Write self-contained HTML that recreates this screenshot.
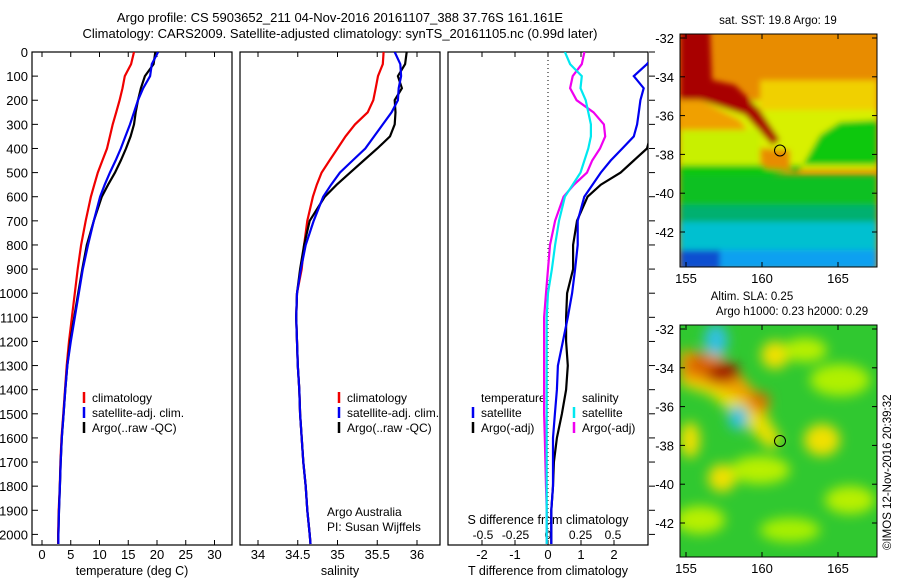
<!DOCTYPE html>
<html><head><meta charset="utf-8"><style>
body{margin:0;background:#fff}
svg{display:block;font-family:"Liberation Sans",sans-serif}
</style></head><body>
<svg id="c" width="900" height="580" viewBox="0 0 900 580">
<defs>
<filter id="bl" x="-20%" y="-20%" width="140%" height="140%"><feGaussianBlur stdDeviation="6"/></filter>
<filter id="bl2" x="-20%" y="-20%" width="140%" height="140%"><feGaussianBlur stdDeviation="3"/></filter>
<clipPath id="cp1"><rect x="32" y="52" width="200" height="493"/></clipPath>
<clipPath id="cp2"><rect x="240" y="52" width="200" height="493"/></clipPath>
<clipPath id="cp3"><rect x="448" y="52" width="200" height="493"/></clipPath>
<clipPath id="cm1"><rect x="680" y="34" width="197" height="233"/></clipPath>
<clipPath id="cm2"><rect x="680" y="325" width="197" height="232"/></clipPath>
</defs>
<text x="340" y="22" font-size="13" text-anchor="middle">Argo profile: CS 5903652_211 04-Nov-2016 20161107_388 37.76S 161.161E</text>
<text x="340" y="38" font-size="13" text-anchor="middle">Climatology: CARS2009. Satellite-adjusted climatology: synTS_20161105.nc (0.99d later)</text>

<!-- SST map -->
<g clip-path="url(#cm1)">
<rect x="680" y="34" width="197" height="233" fill="#e88c00"/>
<g filter="url(#bl2)">
<rect x="680" y="100" width="197" height="70" fill="#d8f000"/>
<rect x="760" y="80" width="117" height="30" fill="#f0d000"/>
<polygon points="680,30 710,30 712,80 735,85 760,110 780,140 772,145 745,115 700,100 680,100" fill="#a80000"/>
<polygon points="680,100 700,100 740,120 760,150 785,170 730,165 680,130" fill="#f0a000"/>
<rect x="680" y="130" width="80" height="40" fill="#c8f000"/>
<polygon points="680,165 877,165 877,120 840,122 820,135 800,170 770,175 680,175" fill="#10c810"/>
<rect x="680" y="175" width="197" height="45" fill="#10c020"/>
<rect x="680" y="205" width="197" height="20" fill="#00b070"/>
<rect x="680" y="222" width="197" height="30" fill="#00c0d0"/>
<rect x="680" y="250" width="197" height="20" fill="#10a0f0"/>
<rect x="680" y="250" width="40" height="20" fill="#1050d0"/>
<polygon points="760,148 790,150 790,170 765,168" fill="#e88c00"/>
</g>
</g>
<rect x="680" y="34" width="197" height="233" fill="none" stroke="#000"/>
<circle cx="780" cy="150.5" r="5.5" fill="none" stroke="#000"/>
<text x="778" y="24" font-size="11.5" text-anchor="middle">sat. SST: 19.8 Argo: 19</text>

<!-- SLA map -->
<g clip-path="url(#cm2)">
<rect x="680" y="325" width="197" height="232" fill="#30c830"/>
<g filter="url(#bl)">
<ellipse cx="775" cy="355" rx="14" ry="14" fill="#f0e000"/>
<ellipse cx="805" cy="350" rx="22" ry="12" fill="#b8f000"/>
<ellipse cx="840" cy="380" rx="30" ry="16" fill="#b0f000"/>
<ellipse cx="822" cy="440" rx="18" ry="16" fill="#f0e000"/>
<ellipse cx="722" cy="478" rx="14" ry="14" fill="#f0e000"/>
<ellipse cx="690" cy="440" rx="10" ry="18" fill="#f0e000"/>
<ellipse cx="760" cy="470" rx="30" ry="14" fill="#b8f000"/>
<ellipse cx="850" cy="500" rx="25" ry="14" fill="#b8f000"/>
<ellipse cx="700" cy="520" rx="25" ry="14" fill="#b8f000"/>
<ellipse cx="790" cy="530" rx="30" ry="12" fill="#a8f000"/>
<polygon points="680,360 700,360 730,385 760,405 782,440 770,450 740,420 710,395 680,385" fill="#e8e000"/>
<polygon points="680,350 720,355 745,380 770,408 760,418 735,395 705,385 680,380" fill="#f0a000"/>
<ellipse cx="722" cy="372" rx="18" ry="10" fill="#a00000"/>
<ellipse cx="700" cy="365" rx="14" ry="10" fill="#d86000"/>
<ellipse cx="760" cy="400" rx="10" ry="8" fill="#d87000"/>
<ellipse cx="716" cy="340" rx="12" ry="16" fill="#30c0e0"/>
<ellipse cx="738" cy="418" rx="10" ry="12" fill="#30c0e0"/>
</g>
</g>
<rect x="680" y="325" width="197" height="232" fill="none" stroke="#000"/>
<circle cx="780" cy="441" r="5.5" fill="none" stroke="#000"/>
<text x="752" y="300" font-size="11.5" text-anchor="middle">Altim. SLA: 0.25</text>
<text x="792" y="315" font-size="11.5" text-anchor="middle">Argo h1000: 0.23 h2000: 0.29</text>
<text transform="translate(891,550) rotate(-90)" font-size="11.5">©IMOS 12-Nov-2016 20:39:32</text>
<g id="axes"></g>
<g id="marks"></g>
</svg>
<script>
const depths=[0,50,100,150,200,250,300,350,400,450,500,550,600,700,800,900,1000,1100,1200,1300,1400,1500,1600,1700,1800,1900,2000,2040];
const tClim=[16,15.5,14.4,14,13.5,12.9,12.3,11.8,11.3,10.5,9.7,9.1,8.5,7.6,6.8,6.2,5.7,5.2,4.7,4.3,4,3.7,3.4,3.2,3.1,2.9,2.8,2.8];
const tSat=[20.2,19.1,18.8,17.6,16.7,16,15.3,14.5,13.7,12.8,11.8,10.9,10.1,9,8,7.1,6.4,5.7,5.0,4.4,4.05,3.75,3.45,3.25,3.12,2.95,2.85,2.85];
const tArgo=[19.7,19.4,17.9,17.2,16.7,16.3,16,15.4,14.6,13.7,12.7,11.5,10.4,9,7.8,7,6.3,5.6,4.9,4.4,4.05,3.75,3.45,3.25,3.12,2.95,2.85,2.85];
const sClim=[35.58,35.57,35.51,35.48,35.45,35.38,35.22,35.1,35.0,34.9,34.8,34.74,34.69,34.62,34.58,34.55,34.49,34.48,34.49,34.5,34.52,34.53,34.55,34.57,34.6,34.62,34.65,34.66];
const sSat=[35.72,35.79,35.8,35.77,35.76,35.68,35.57,35.46,35.35,35.19,35.03,34.92,34.82,34.7,34.6,34.54,34.49,34.48,34.49,34.5,34.52,34.53,34.55,34.57,34.6,34.62,34.65,34.66];
const sArgo=[35.87,35.85,35.76,35.81,35.72,35.73,35.72,35.66,35.5,35.33,35.16,34.99,34.84,34.65,34.58,34.53,34.49,34.48,34.49,34.5,34.52,34.53,34.55,34.57,34.6,34.62,34.65,34.66];
const dTSat=[3.3,3.0,2.6,2.9,2.8,2.75,2.7,2.6,2.25,1.9,1.6,1.35,1.1,0.9,0.9,0.82,0.73,0.6,0.45,0.3,0.27,0.21,0.15,0.15,0.15,0.1,0.1,0.1];
const dTArgo=[3.5,3.5,3.4,3.3,3.1,3.2,3.3,3.1,3.0,2.6,2.2,1.6,1.2,0.88,0.76,0.76,0.58,0.55,0.55,0.6,0.55,0.42,0.27,0.18,0.15,0.1,0.1,0.1];
const dSSat=[0.13,0.17,0.26,0.25,0.29,0.31,0.33,0.33,0.31,0.28,0.25,0.19,0.13,0.085,0.055,0.03,0,-0.01,-0.01,-0.01,-0.01,-0.01,-0.01,-0.01,-0.01,-0.01,-0.01,-0.01];
const dSArgo=[0.28,0.26,0.19,0.17,0.22,0.35,0.43,0.44,0.4,0.34,0.3,0.2,0.12,0.055,0.015,0,-0.015,-0.03,-0.03,-0.03,-0.03,-0.03,-0.025,-0.02,-0.015,-0.01,-0.01,-0.01];
const depthTicks=[0,100,200,300,400,500,600,700,800,900,1000,1100,1200,1300,1400,1500,1600,1700,1800,1900,2000];
const tTicks=[0,5,10,15,20,25,30];
const sTicks=[34,34.5,35,35.5,36];
const sTickLabels=["34","34.5","35","35.5","36"];
const dTTicks=[-2,-1,0,1,2];
const dSTicks=[-0.5,-0.25,0,0.25,0.5];
const dSTickLabels=["-0.5","-0.25","0","0.25","0.5"];
const lats=[-32,-34,-36,-38,-40,-42];
const lons=[155,160,165];

const NS="http://www.w3.org/2000/svg";
const yD=d=>52+d*0.2412;
const xT=v=>42+5.75*v;
const xS=v=>258+79.5*(v-34);
const xDT=v=>548+33*v;
const xDS=v=>548+130*v;
const ax=document.getElementById('axes'),mk=document.getElementById('marks');
function el(tag,at,par,txt){const e=document.createElementNS(NS,tag);for(const k in at)e.setAttribute(k,at[k]);if(txt!==undefined)e.textContent=txt;par.appendChild(e);return e;}
const panels=[{x:32,n:'temperature-panel'},{x:240,n:'salinity-panel'},{x:448,n:'difference-panel'}];
panels.forEach(p=>{const r=el('rect',{x:p.x,y:52,width:200,height:493,fill:'none',stroke:'#000','stroke-width':1.2},ax);

});
depthTicks.forEach(d=>{const y=yD(d);
el('line',{x1:32,x2:38,y1:y,y2:y,stroke:'#000'},ax);
el('line',{x1:649,x2:655,y1:y,y2:y,stroke:'#000'},ax);
const t=el('text',{x:28,y:y+5,'font-size':13,'text-anchor':'end'},ax,d);

});
function xticks(ticks,labels,f,ly){ticks.forEach((v,i)=>{const x=f(v);
el('line',{x1:x,x2:x,y1:52,y2:57,stroke:'#000'},ax);
el('line',{x1:x,x2:x,y1:540,y2:545,stroke:'#000'},ax);
const t=el('text',{x:x,y:ly,'font-size':13,'text-anchor':'middle'},ax,labels[i]);

});}
xticks(tTicks,tTicks.map(String),xT,559);
xticks(sTicks,sTickLabels,xS,559);
xticks(dTTicks,dTTicks.map(String),xDT,559);
dSTicks.forEach((v,i)=>{const t=el('text',{x:xDS(v),y:539,'font-size':12,'text-anchor':'middle'},ax,dSTickLabels[i]);

});
[['temperature (deg C)',132,'temperature-axis-title'],['salinity',340,'salinity-axis-title'],['T difference from climatology',548,'t-diff-axis-title']].forEach(a=>{
const t=el('text',{x:a[1],y:575,'font-size':12.5,'text-anchor':'middle'},ax,a[0]);

});
const st=el('text',{x:548,y:524,'font-size':12.5,'text-anchor':'middle'},ax,'S difference from climatology');


el('line',{x1:548,x2:548,y1:52,y2:545,stroke:'#000','stroke-dasharray':'1,3'},ax);
// maps axes
function mapAxes(top,bot,y0){const fy=l=>y0+(-32-l)*19.4, fx=l=>686+(l-155)*15.2;
lats.forEach(l=>{const y=fy(l);el('line',{x1:680,x2:685,y1:y,y2:y,stroke:'#000'},ax);el('line',{x1:872,x2:877,y1:y,y2:y,stroke:'#000'},ax);
const t=el('text',{x:674,y:y+5,'font-size':13,'text-anchor':'end'},ax,l);

});
lons.forEach(l=>{const x=fx(l);el('line',{x1:x,x2:x,y1:top,y2:top+5,stroke:'#000'},ax);el('line',{x1:x,x2:x,y1:bot-5,y2:bot,stroke:'#000'},ax);
const t=el('text',{x:x,y:bot+16,'font-size':13,'text-anchor':'middle'},ax,l);

});}
mapAxes(34,267,38);mapAxes(325,557,329);
function series(vals,f,color,clip,name){const d=vals.map((v,i)=>(i?'L':'M')+f(v).toFixed(1)+','+yD(depths[i]).toFixed(1)).join('');
const p=el('path',{d:d,fill:'none',stroke:color,'stroke-width':2.2,'clip-path':'url(#'+clip+')'},mk);

}
series(tClim,xT,'#f00000','cp1','temp-climatology-line');
series(tArgo,xT,'#000','cp1','temp-argo-line');
series(tSat,xT,'#0000f0','cp1','temp-satellite-line');
series(sClim,xS,'#f00000','cp2','sal-climatology-line');
series(sArgo,xS,'#000','cp2','sal-argo-line');
series(sSat,xS,'#0000f0','cp2','sal-satellite-line');
series(dTArgo,xDT,'#000','cp3','dT-argo-line');
series(dTSat,xDT,'#0000f0','cp3','dT-satellite-line');
series(dSArgo,xDS,'#f000f0','cp3','dS-argo-line');
series(dSSat,xDS,'#00e8f0','cp3','dS-satellite-line');
function leg(x,y,color,label){if(color){const l=el('line',{x1:x,x2:x,y1:y-10,y2:y+1,stroke:color,'stroke-width':2.5},ax);

}
const t=el('text',{x:x+8,y:y,'font-size':12},ax,label);

}
[[84,0],[339,0]].forEach(o=>{leg(o[0],402,'#f00000','climatology');leg(o[0],417,'#0000f0','satellite-adj. clim.');leg(o[0],432,'#000','Argo(..raw -QC)');});
leg(473,402,null,'temperature');leg(473,417,'#0000f0','satellite');leg(473,432,'#000','Argo(-adj)');
leg(574,402,null,'salinity');leg(574,417,'#00e8f0','satellite');leg(574,432,'#f000f0','Argo(-adj)');
const a1=el('text',{x:327,y:516,'font-size':12},ax,'Argo Australia');


const a2=el('text',{x:327,y:531,'font-size':12},ax,'PI: Susan Wijffels');


</script>
</body></html>
